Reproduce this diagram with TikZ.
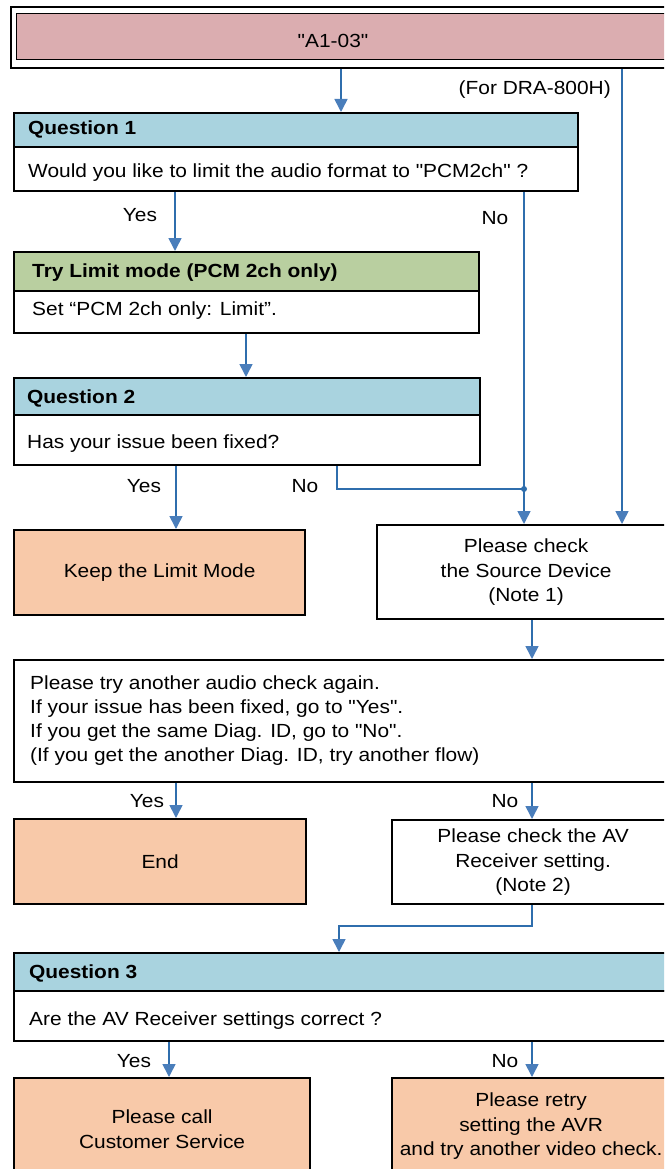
\documentclass[tikz,border=0pt]{standalone}
\usepackage{fontspec}
\setmainfont{Liberation Sans}[FakeStretch=1.1, Ligatures=TeXOff]
\usetikzlibrary{arrows.meta,calc}
\definecolor{pinkc}{HTML}{DBADB0}
\definecolor{bluec}{HTML}{A9D3DF}
\definecolor{greenc}{HTML}{B9CFA0}
\definecolor{salmonc}{HTML}{F8C9A9}
\definecolor{linec}{HTML}{2F6EAD}
\definecolor{tipc}{HTML}{4A7EBB}
\begin{document}
\begin{tikzpicture}[x=1pt,y=-1pt,
  font=\fontsize{19}{24.8}\selectfont,
  box/.style={draw=black, line width=2.2pt, rectangle, inner sep=0pt, anchor=north west, align=center},
  tx/.style={anchor=base west, inner sep=0pt},
  hd/.style={tx, font=\fontsize{19}{24.8}\selectfont\bfseries},
  lbl/.style={anchor=base, inner sep=0pt},
  ln/.style={draw=linec, line width=1.6pt},
  arr/.style={ln, -{Triangle[width=13pt,length=13pt,color=tipc]}}]
\useasboundingbox (0,0) rectangle (664,1169);
\fill[white] (0,0) rectangle (664,1169);
\clip (0,0) rectangle (664,1169);

% top
\node[box, minimum width=700pt, minimum height=61pt] (top) at (10,6) {};
\node[box, line width=1.4pt, fill=pinkc, minimum width=700pt, minimum height=46pt] (topin) at (16,13) {};
\node[lbl] (toptext) at (333,48) {"A1-03"};
\node[anchor=base east, inner sep=0pt] (dra) at (611,95) {(For DRA-800H)};

% Question 1
\node[box, fill=bluec, minimum width=564pt, minimum height=34pt] (q1h) at (13,112) {};
\node[box, fill=white, minimum width=564pt, minimum height=44pt] (q1b) at (13,146) {};
\node[hd] (q1ht) at (28,135) {Question 1};
\node[tx] (q1bt) at (28,178) {Would you like to limit the audio format to "PCM2ch" ?};

% Try limit mode
\node[box, fill=greenc, minimum width=465pt, minimum height=39pt] (grh) at (13,251) {};
\node[box, fill=white, minimum width=465pt, minimum height=42pt] (grb) at (13,290) {};
\node[hd] (grht) at (32,277) {Try Limit mode (PCM 2ch only)};
\node[tx] (grbt) at (32,315) {Set “PCM 2ch only: Limit”.};

% Question 2
\node[box, fill=bluec, minimum width=466pt, minimum height=37pt] (q2h) at (13,377) {};
\node[box, fill=white, minimum width=466pt, minimum height=50pt] (q2b) at (13,414) {};
\node[hd] (q2ht) at (27,403) {Question 2};
\node[tx] (q2bt) at (27,448) {Has your issue been fixed?};

% Keep / Source
\node[box, fill=salmonc, minimum width=291pt, minimum height=85pt] (keep) at (13,529) {Keep the Limit Mode};
\node[box, fill=white, minimum width=298pt, minimum height=94pt] (src) at (376,524) {Please check\\the Source Device\\(Note 1)};

% big box
\node[box, fill=white, minimum width=700pt, minimum height=122pt] (big) at (13,659) {};
\node[tx] (bigt1) at (30,689) {Please try another audio check again.};
\node[tx] (bigt2) at (30,713) {If your issue has been fixed, go to "Yes".};
\node[tx] (bigt3) at (30,737) {If you get the same Diag. ID, go to "No".};
\node[tx] (bigt4) at (30,761) {(If you get the another Diag. ID, try another flow)};

% End / AV
\node[box, fill=salmonc, minimum width=292pt, minimum height=85pt] (end) at (13,818) {End};
\node[box, fill=white, minimum width=282pt, minimum height=84pt] (av) at (391,819) {Please check the AV\\Receiver setting.\\(Note 2)};

% Question 3
\node[box, fill=bluec, minimum width=700pt, minimum height=38pt] (q3h) at (13,952) {};
\node[box, fill=white, minimum width=700pt, minimum height=50pt] (q3b) at (13,990) {};
\node[hd] (q3ht) at (29,978) {Question 3};
\node[tx] (q3bt) at (29,1025) {Are the AV Receiver settings correct ?};

% final boxes
\node[box, fill=salmonc, minimum width=296pt, minimum height=102pt] (call) at (13,1077) {Please call\\Customer Service};
\node[box, fill=salmonc, minimum width=278pt, minimum height=96pt] (retry) at (391,1077) {Please retry\\setting the AVR\\and try another video check.};

% connector x positions
\coordinate (xa) at (341,0);
\coordinate (xb) at (622,0);
\coordinate (xc) at (175,0);
\coordinate (xd) at (524,0);
\coordinate (xe) at (246,0);
\coordinate (xf) at (176,0);
\coordinate (xg) at (337,0);
\coordinate (xh) at (532,0);
\coordinate (xi) at (339,0);
\coordinate (xj) at (169,0);
\coordinate (j1) at (524,489);
\coordinate (j2) at (532,926);

\draw[arr] (xa |- top.south) -- (xa |- q1h.north);
\draw[arr] (xb |- top.south) -- (xb |- src.north);
\draw[arr] (xc |- q1b.south) -- (xc |- grh.north);
\draw[arr] (xd |- q1b.south) -- (xd |- src.north);
\draw[arr] (xe |- grb.south) -- (xe |- q2h.north);
\draw[arr] (xf |- q2b.south) -- (xf |- keep.north);
\draw[ln] (xg |- q2b.south) |- (j1);
\fill[linec] (j1) circle (3pt);
\draw[arr] (xh |- src.south) -- (xh |- big.north);
\draw[arr] (xf |- big.south) -- (xf |- end.north);
\draw[arr] (xh |- big.south) -- (xh |- av.north);
\draw[arr] (xh |- av.south) -- (j2) -| (xi |- q3h.north);
\draw[arr] (xj |- q3b.south) -- (xj |- call.north);
\draw[arr] (xh |- q3b.south) -- (xh |- retry.north);

% labels
\node[lbl] (y1) at (140,221) {Yes};
\node[lbl] (n1) at (495,224) {No};
\node[lbl] (y2) at (144,492) {Yes};
\node[lbl] (n2) at (305,492) {No};
\node[lbl] (y3) at (147,807) {Yes};
\node[lbl] (n3) at (505,807) {No};
\node[lbl] (y4) at (134,1067) {Yes};
\node[lbl] (n4) at (505,1067) {No};
\end{tikzpicture}
\end{document}
